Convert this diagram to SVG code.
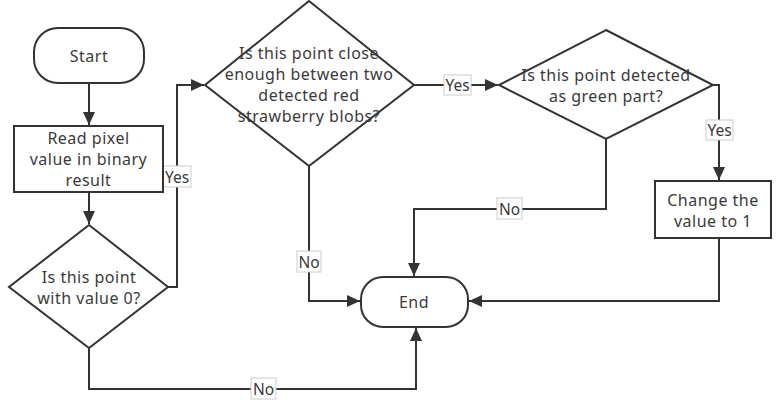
<svg xmlns="http://www.w3.org/2000/svg" width="776" height="400" viewBox="0 0 776 400">
<defs>
<marker id="arr" markerUnits="userSpaceOnUse" markerWidth="14" markerHeight="12" refX="13" refY="6" orient="auto">
<path d="M0,0 L13,6 L0,12 z" fill="#333"/>
</marker>
</defs>
<style>
.shape{fill:#fff;stroke:#333;stroke-width:2}
.t{font-family:"Noto Sans","Open Sans",sans-serif;font-size:16px;letter-spacing:0.5px;fill:#3a3a3a;text-anchor:middle;dominant-baseline:central}
.edge{fill:none;stroke:#333;stroke-width:2}
.lb{fill:#fff;stroke:#ccc;stroke-width:1}
.lt{font-family:"Noto Sans","Open Sans",sans-serif;font-size:15.5px;fill:#3a3a3a;text-anchor:middle;dominant-baseline:central}
</style>
<rect width="776" height="400" fill="#fff"/>
<g id="connectors">
<path class="edge" d="M89,84 V125" marker-end="url(#arr)"/>
<path class="edge" d="M89,192 V224" marker-end="url(#arr)"/>
<path class="edge" d="M168,287 H177 V85 H204" marker-end="url(#arr)"/>
<path class="edge" d="M414,85 H498" marker-end="url(#arr)"/>
<path class="edge" d="M713,85 H719 V180" marker-end="url(#arr)"/>
<path class="edge" d="M309,166 V301 H360" marker-end="url(#arr)"/>
<path class="edge" d="M606,139 V209 H414 V276" marker-end="url(#arr)"/>
<path class="edge" d="M719,238 V301 H469" marker-end="url(#arr)"/>
<path class="edge" d="M89,348 V389 H416 V328" marker-end="url(#arr)"/>
<g id="lbl-yes1"><rect class="lb" x="163" y="166" width="28" height="21"/><text class="lt" x="177" y="176.5">Yes</text></g>
<g id="lbl-yes2"><rect class="lb" x="444" y="75" width="27" height="20"/><text class="lt" x="457.5" y="85">Yes</text></g>
<g id="lbl-yes3"><rect class="lb" x="706" y="120" width="27" height="20"/><text class="lt" x="719.5" y="130">Yes</text></g>
<g id="lbl-no1"><rect class="lb" x="297" y="251" width="24" height="21"/><text class="lt" x="309" y="261.5">No</text></g>
<g id="lbl-no2"><rect class="lb" x="497" y="198" width="25" height="21"/><text class="lt" x="509.5" y="208.5">No</text></g>
<g id="lbl-no3"><rect class="lb" x="251" y="378" width="25" height="21"/><text class="lt" x="263.5" y="388.5">No</text></g>
</g>
<g id="start"><rect class="shape" x="34" y="28" width="110" height="55" rx="24"/><text class="t" x="89" y="55.5">Start</text></g>
<g id="read"><rect class="shape" x="14" y="126" width="149" height="66"/><text class="t" x="88.5" y="138">Read pixel</text><text class="t" x="88.5" y="159">value in binary</text><text class="t" x="88.5" y="180">result</text></g>
<g id="d1"><polygon class="shape" points="89,225 168,287 89,348 9,287"/><text class="t" x="89" y="277">Is this point</text><text class="t" x="89" y="298">with value 0?</text></g>
<g id="d2"><polygon class="shape" points="309,1 414,85 309,166 205,85"/><text class="t" x="309" y="53">Is this point close</text><text class="t" x="309" y="74">enough between two</text><text class="t" x="309" y="95">detected red</text><text class="t" x="309" y="116">strawberry blobs?</text></g>
<g id="d3"><polygon class="shape" points="606,30 713,85 606,139 499,85"/><text class="t" x="606" y="74.5">Is this point detected</text><text class="t" x="606" y="95.5">as green part?</text></g>
<g id="change"><rect class="shape" x="655" y="181" width="116" height="57"/><text class="t" x="713" y="199.5">Change the</text><text class="t" x="713" y="220.5">value to 1</text></g>
<g id="end"><rect class="shape" x="361" y="277" width="107" height="50" rx="22"/><text class="t" x="414" y="302">End</text></g>
</svg>
